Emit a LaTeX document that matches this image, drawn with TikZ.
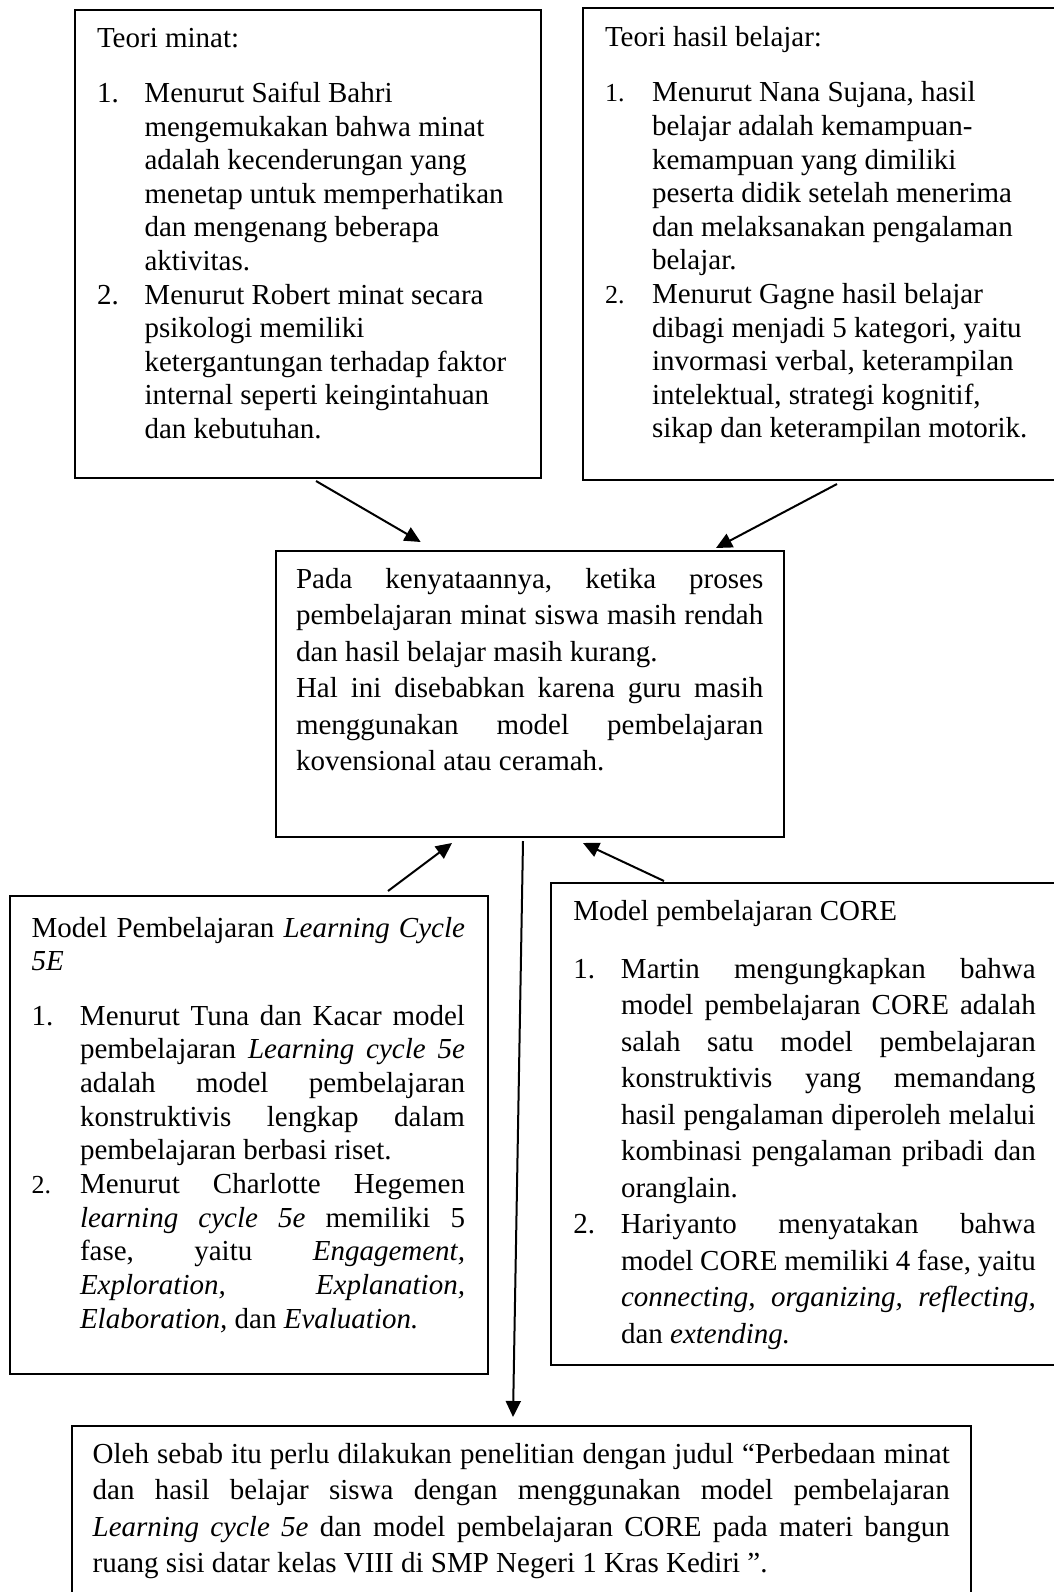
\documentclass[tikz,border=0pt]{standalone}
\usepackage{fontspec}
\setmainfont{Liberation Serif}
\usetikzlibrary{arrows.meta,calc}
\newlength\itmind
\newlength\boxw
\newcommand\setsp{\frenchspacing\spaceskip=0.25em plus 1fil minus 0.09em\relax}
\newcommand\jline[1]{\noindent\makebox[\boxw][s]{#1}\par}
\newcommand\rline[1]{\noindent\mbox{\spaceskip=0.25em\relax #1}\par}
\newcommand\ijline[2]{\noindent\makebox[\itmind][l]{#1}\makebox[\dimexpr\boxw-\itmind\relax][s]{#2}\par}
\newcommand\irline[2]{\noindent\makebox[\itmind][l]{#1}\mbox{\spaceskip=0.25em\relax #2}\par}
\newcommand\smnum[1]{{\fontsize{26}{26}\selectfont #1}}
\begin{document}
\begin{tikzpicture}[x=1pt,y=-1pt,
  box/.style={draw,line width=2pt,rectangle,inner sep=0pt,outer sep=0pt,anchor=north west},
  txt/.style={anchor=base west,inner sep=0pt,outer sep=0pt},
  arr/.style={-{Triangle[length=16pt,width=15pt]},line width=2pt}]
\useasboundingbox (0,0) rectangle (1054,1592);
\clip (0,0) rectangle (1054,1592);
\fill[white] (0,0) rectangle (1054,1592);
% boxes
\node[box,minimum width=466pt,minimum height=468pt] (b1) at (75,10) {};
\node[box,minimum width=480pt,minimum height=472pt] (b2) at (583,8) {};
\node[box,minimum width=508.5pt,minimum height=286pt] (c) at (275.5,551) {};
\node[box,minimum width=478pt,minimum height=478pt] (lc) at (10,896) {};
\node[box,minimum width=512pt,minimum height=482pt] (core) at (551,883) {};
\node[box,minimum width=899pt,minimum height=180pt] (bot) at (72,1426) {};
% texts
\node[txt,text width=440pt] (t1) at (97,48) {\fontsize{29}{33.6}\selectfont\setsp\setlength\parskip{0pt}\setlength\itmind{47.5pt}\setlength\boxw{440pt}%
\rline{Teori minat:}\vspace{20.9pt}
\irline{1.}{Menurut Saiful Bahri}
\irline{}{mengemukakan bahwa minat}
\irline{}{adalah kecenderungan yang}
\irline{}{menetap untuk memperhatikan}
\irline{}{dan mengenang beberapa}
\irline{}{aktivitas.}
\irline{2.}{Menurut Robert minat secara}
\irline{}{psikologi memiliki}
\irline{}{ketergantungan terhadap faktor}
\irline{}{internal seperti keingintahuan}
\irline{}{dan kebutuhan.}};
\node[txt,text width=440pt] (t2) at (605,46.5) {\fontsize{29}{33.6}\selectfont\setsp\setlength\parskip{0pt}\setlength\itmind{47pt}\setlength\boxw{440pt}%
\rline{Teori hasil belajar:}\vspace{21.9pt}
\irline{\smnum{1.}}{Menurut Nana Sujana, hasil}
\irline{}{belajar adalah kemampuan-}
\irline{}{kemampuan yang dimiliki}
\irline{}{peserta didik setelah menerima}
\irline{}{dan melaksanakan pengalaman}
\irline{}{belajar.}
\irline{\smnum{2.}}{Menurut Gagne hasil belajar}
\irline{}{dibagi menjadi 5 kategori, yaitu}
\irline{}{invormasi verbal, keterampilan}
\irline{}{intelektual, strategi kognitif,}
\irline{}{sikap dan keterampilan motorik.}};
\node[txt,text width=467.3pt] (tc) at (296,588.3) {\fontsize{29}{36.5}\selectfont\setsp\setlength\parskip{0pt}\setlength\boxw{467.3pt}%
\jline{Pada kenyataannya, ketika proses}
\jline{pembelajaran minat siswa masih rendah}
\rline{dan hasil belajar masih kurang.}
\jline{Hal ini disebabkan karena guru masih}
\jline{menggunakan model pembelajaran}
\rline{kovensional atau ceramah.}};
\node[txt,text width=433.3pt] (tlc) at (31.7,937) {\fontsize{29}{33.7}\selectfont\setsp\setlength\parskip{0pt}\setlength\itmind{48.3pt}\setlength\boxw{433.3pt}%
\jline{Model Pembelajaran \textit{Learning Cycle}}
\rline{\textit{5E}}\vspace{20.6pt}
\ijline{1.}{Menurut Tuna dan Kacar model}
\ijline{}{pembelajaran \textit{Learning cycle 5e}}
\ijline{}{adalah model pembelajaran}
\ijline{}{konstruktivis lengkap dalam}
\irline{}{pembelajaran berbasi riset.}
\ijline{\smnum{2.}}{Menurut Charlotte Hegemen}
\ijline{}{\textit{learning cycle 5e} memiliki 5}
\ijline{}{fase, yaitu \textit{Engagement,}}
\ijline{}{\textit{Exploration, Explanation,}}
\irline{}{\textit{Elaboration,} dan \textit{Evaluation.}}};
\node[txt,text width=462.4pt] (tcore) at (573.3,920) {\fontsize{29}{36.5}\selectfont\setsp\setlength\parskip{0pt}\setlength\itmind{47.7pt}\setlength\boxw{462.4pt}%
\rline{Model pembelajaran CORE}\vspace{21.8pt}
\ijline{1.}{Martin mengungkapkan bahwa}
\ijline{}{model pembelajaran CORE adalah}
\ijline{}{salah satu model pembelajaran}
\ijline{}{konstruktivis yang memandang}
\ijline{}{hasil pengalaman diperoleh melalui}
\ijline{}{kombinasi pengalaman pribadi dan}
\irline{}{oranglain.}
\ijline{2.}{Hariyanto menyatakan bahwa}
\ijline{}{model CORE memiliki 4 fase, yaitu}
\ijline{}{\textit{connecting, organizing, reflecting,}}
\irline{}{dan \textit{extending.}}};
\node[txt,text width=857pt] (tbot) at (92.7,1463.5) {\fontsize{29}{36.4}\selectfont\setsp\setlength\parskip{0pt}\setlength\boxw{857pt}%
\jline{Oleh sebab itu perlu dilakukan penelitian dengan judul “Perbedaan minat}
\jline{dan hasil belajar siswa dengan menggunakan model pembelajaran}
\jline{\textit{Learning cycle 5e} dan model pembelajaran CORE pada materi bangun}
\rline{ruang sisi datar kelas VIII di SMP Negeri 1 Kras Kediri ”.}};
% connector ends
\coordinate (a1s) at ($(b1.south west)+(241,3)$);
\coordinate (a1e) at ($(c.north west)+(145.2,-9)$);
\coordinate (a2s) at ($(b2.south west)+(254,4)$);
\coordinate (a2e) at ($(c.north west)+(440.5,-3)$);
\coordinate (a3s) at ($(lc.north west)+(378,-5)$);
\coordinate (a3e) at ($(c.south west)+(176.5,6)$);
\coordinate (a4s) at ($(core.north west)+(113,-2)$);
\coordinate (a4e) at ($(c.south west)+(307.5,6)$);
\coordinate (a5s) at ($(c.south west)+(247.5,4)$);
\coordinate (a5e) at ($(bot.north west)+(441,-9)$);
\draw[arr] (a1s) -- (a1e);
\draw[arr] (a2s) -- (a2e);
\draw[arr] (a3s) -- (a3e);
\draw[arr] (a4s) -- (a4e);
\draw[arr] (a5s) -- (a5e);
\end{tikzpicture}
\end{document}
